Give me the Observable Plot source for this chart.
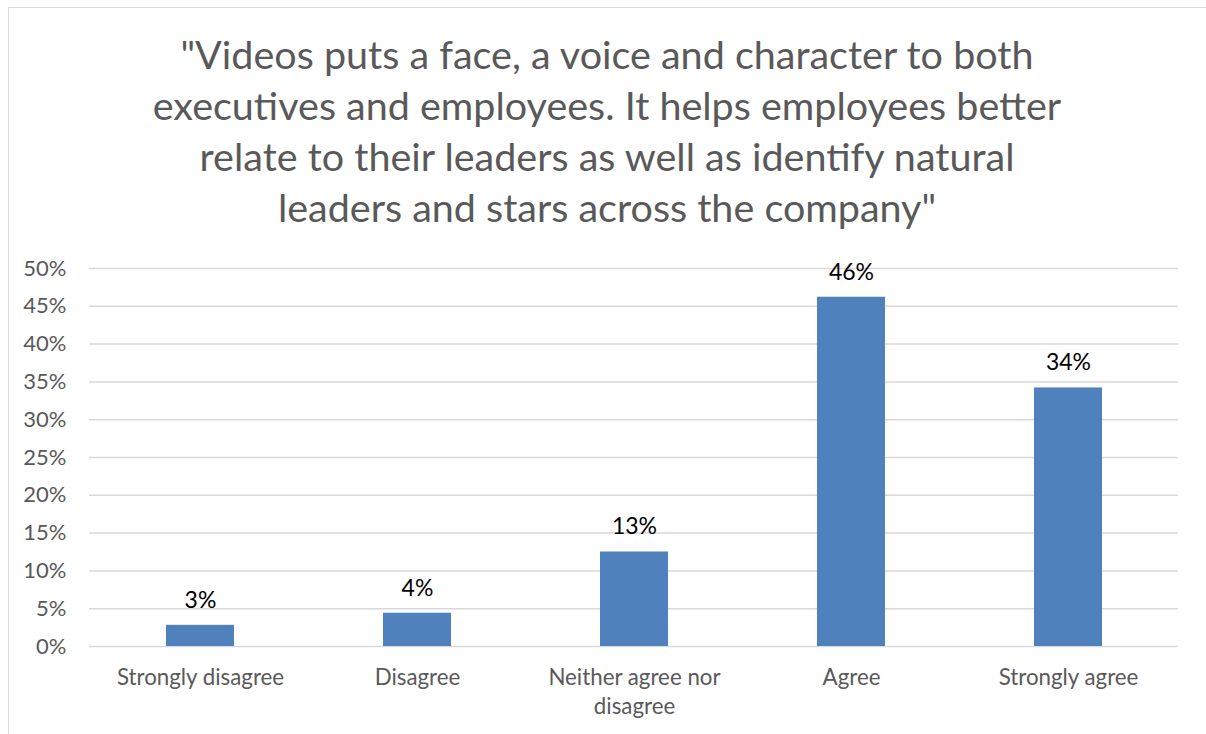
<!DOCTYPE html>
<html>
<head>
<meta charset="utf-8">
<script src="https://cdn.jsdelivr.net/npm/d3@7"></script>
<script src="https://cdn.jsdelivr.net/npm/@observablehq/plot@0.6"></script>
<style>
  html, body { margin: 0; padding: 0; background: #fff; }
  body { width: 1206px; height: 734px; position: relative; overflow: hidden; font-family: Lato, "Open Sans", sans-serif; }
  #frame { position: absolute; left: 8px; top: 7px; width: 1210px; height: 800px; border-left: 1px solid #d9d9d9; border-top: 1px solid #d9d9d9; box-sizing: border-box; }
  #title { position: absolute; left: 8px; width: 1198px; top: 28px; text-align: center; color: #595959; font-size: 39.5px; line-height: 51px; }
  #chart { position: absolute; left: 0; top: 250px; }
</style>
</head>
<body>
<div id="frame"></div>
<div id="title">"Videos puts a face, a voice and character to both<br>executives and employees. It helps employees better<br>relate to their leaders as well as identify natural<br>leaders and stars across the company"</div>
<div id="chart"></div>
<script>
const categories = ["Strongly disagree", "Disagree", "Neither agree nor\ndisagree", "Agree", "Strongly agree"];
const values = [0.028, 0.044, 0.125, 0.462, 0.342];
const labels = ["3%", "4%", "13%", "46%", "34%"];
const yTicks = [0, 0.05, 0.10, 0.15, 0.20, 0.25, 0.30, 0.35, 0.40, 0.45, 0.50];

const data = categories.map((c, i) => ({category: c, value: values[i], label: labels[i]}));

const chart = Plot.plot({
  width: 1206,
  height: 484,
  marginLeft: 89,
  marginRight: 28,
  marginTop: 18,
  marginBottom: 88,
  style: {fontFamily: "Lato, 'Open Sans', sans-serif", fontSize: "20px", color: "#595959", background: "transparent"},
  x: {domain: categories, paddingInner: 0.687, paddingOuter: 0.3435, label: null},
  y: {domain: [0, 0.5], label: null},
  marks: [
    Plot.gridY(yTicks, {stroke: "#d9d9d9", strokeOpacity: 1, strokeWidth: 1.5}),
    Plot.barY(data, {x: "category", y: "value", fill: "#4f81bd"}),
    Plot.text(data, {x: "category", y: "value", text: "label", dy: -25, fill: "#000", fontSize: 23}),
    Plot.axisY(yTicks, {tickSize: 0, tickPadding: 23, tickFormat: d => Math.round(d * 100) + "%", fill: "#595959", fontSize: 22, label: null}),
    Plot.axisX({tickSize: 0, tickPadding: 18, fill: "#595959", fontSize: 22.3, lineHeight: 1.3, label: null})
  ]
});
document.getElementById("chart").appendChild(chart);
</script>
</body>
</html>
